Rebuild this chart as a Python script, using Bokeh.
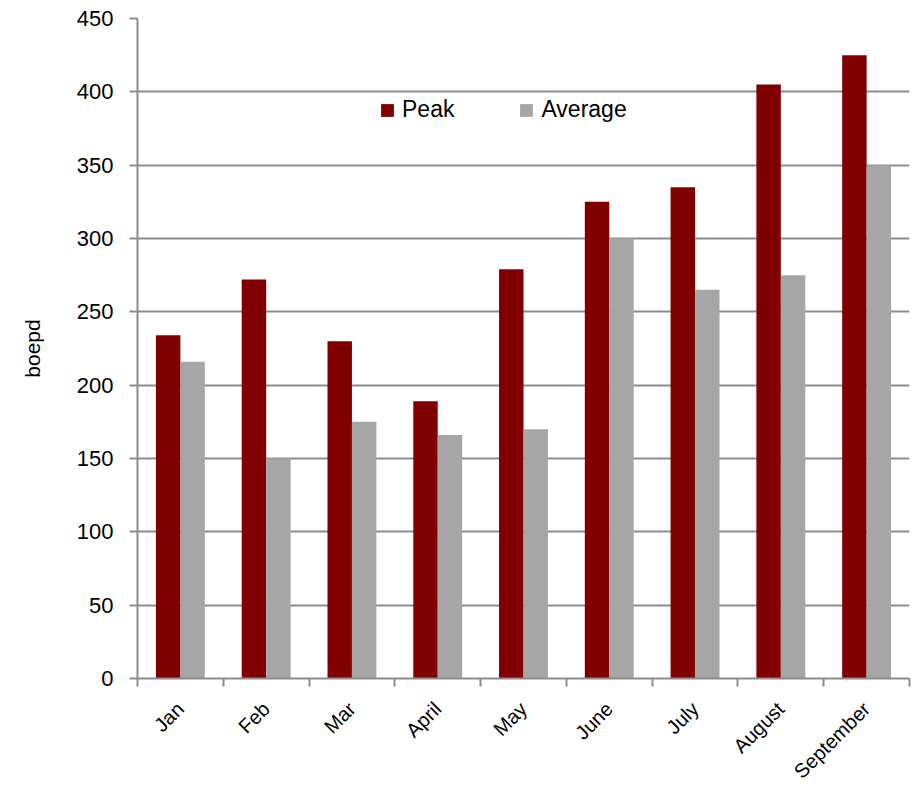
from bokeh.plotting import figure
from bokeh.models import FixedTicker, Range1d, Legend, LegendItem
from bokeh.embed import file_html
from bokeh.resources import INLINE
import numpy as np
import math

months = ["Jan", "Feb", "Mar", "April", "May", "June", "July", "August", "September"]
peak = [234, 272, 230, 189, 279, 325, 335, 405, 425]
average = [216, 150, 175, 166, 170, 300, 265, 275, 350]
y_ticks = [0, 50, 100, 150, 200, 250, 300, 350, 400, 450]

PEAK_COLOR = "#800000"
AVG_COLOR = "#A6A6A6"
GRID = "#8C8C8C"
FONT = "Liberation Sans"

n = len(months)
centers = np.arange(n) + 0.5
bw = 0.285

p = figure(width=914, height=793, output_backend="svg", toolbar_location=None,
           x_range=Range1d(0, n), y_range=Range1d(0, 450),
           min_border_left=137, min_border_right=5, min_border_top=18, min_border_bottom=113)
p.outline_line_color = None
p.background_fill_color = "white"
p.border_fill_color = "white"

r1 = p.vbar(x=centers - bw / 2, top=peak, width=bw, fill_color=PEAK_COLOR, line_color=None)
r2 = p.vbar(x=centers + bw / 2, top=average, width=bw, fill_color=AVG_COLOR, line_color=None)

# x axis
xa = p.xaxis[0]
xa.ticker = FixedTicker(ticks=list(centers), minor_ticks=list(range(n + 1)))
xa.major_label_overrides = {float(c): m for c, m in zip(centers, months)}
xa.major_tick_line_color = None
xa.major_tick_out = 0
xa.major_tick_in = 0
xa.minor_tick_line_color = GRID
xa.minor_tick_line_width = 2
xa.minor_tick_out = 8
xa.minor_tick_in = 0
xa.axis_line_color = GRID
xa.axis_line_width = 2
xa.major_label_orientation = math.pi / 4
xa.major_label_text_font = FONT
xa.major_label_text_font_size = "20px"
xa.major_label_text_color = "black"
xa.major_label_standoff = 19

# y axis
ya = p.yaxis[0]
ya.ticker = FixedTicker(ticks=y_ticks, minor_ticks=[])
ya.axis_line_color = GRID
ya.axis_line_width = 2
ya.major_tick_line_color = GRID
ya.major_tick_line_width = 2
ya.major_tick_out = 8
ya.major_tick_in = 0
ya.minor_tick_line_color = None
ya.major_label_text_font = FONT
ya.major_label_text_font_size = "22px"
ya.major_label_text_color = "black"
ya.major_label_standoff = 16
ya.axis_label = "boepd"
ya.axis_label_text_font = FONT
ya.axis_label_text_font_size = "21px"
ya.axis_label_text_font_style = "normal"
ya.axis_label_text_color = "black"
ya.axis_label_standoff = 30

p.xgrid.grid_line_color = None
p.ygrid.ticker = FixedTicker(ticks=y_ticks)
p.ygrid.grid_line_color = GRID
p.ygrid.grid_line_width = 2

legend = Legend(items=[LegendItem(label="Peak", renderers=[r1]),
                       LegendItem(label="Average", renderers=[r2])],
                orientation="horizontal", location=(242, 555),
                glyph_width=16, glyph_height=16, label_standoff=7, spacing=64,
                padding=0, margin=0, border_line_color=None, background_fill_alpha=0,
                label_text_font=FONT, label_text_font_size="23px",
                label_text_color="black")
p.add_layout(legend, "center")

open("out.html", "w").write(file_html(p, INLINE))
